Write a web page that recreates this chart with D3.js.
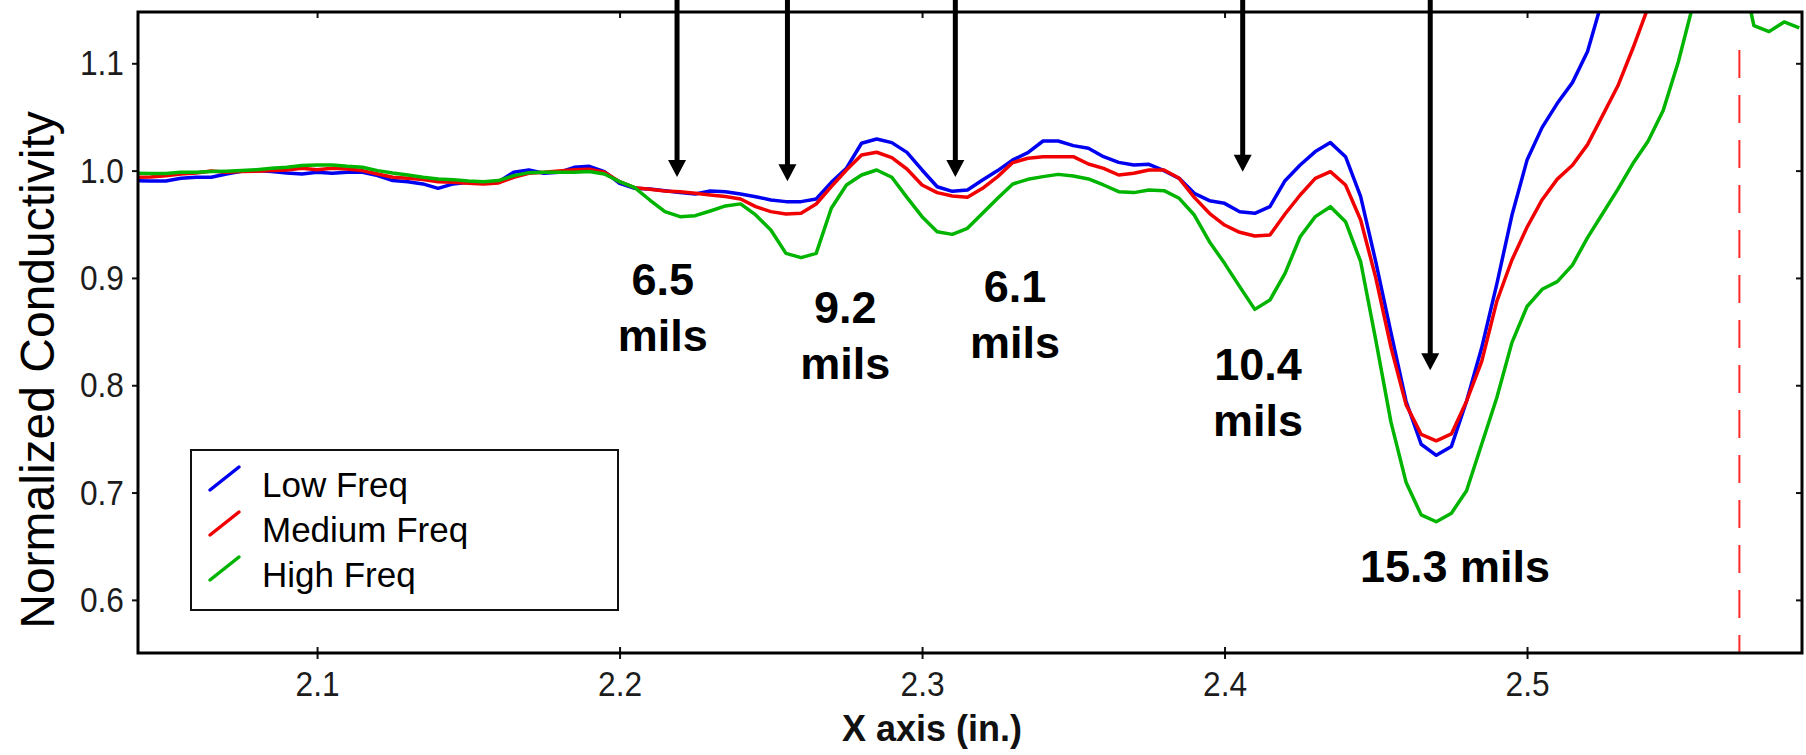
<!DOCTYPE html>
<html><head><meta charset="utf-8">
<script src="https://cdn.jsdelivr.net/npm/d3@7"></script>
<style>
html,body{margin:0;padding:0;background:#fff;}
svg{display:block;}
text{font-family:"Liberation Sans", Arial, Helvetica, sans-serif;}
</style></head><body>
<svg id="chart" width="1806" height="755"></svg>
<script>
// ---------------- DATA ----------------
const xPositions = [
 2.040,2.045,2.050,2.055,2.060,2.065,2.070,2.075,2.080,2.085,2.090,2.095,
 2.100,2.105,2.110,2.115,2.120,2.125,2.130,2.135,2.140,2.145,2.150,2.155,
 2.160,2.165,2.170,2.175,2.180,2.185,2.190,2.195,2.200,2.205,2.210,2.215,
 2.220,2.225,2.230,2.235,2.240,2.245,2.250,2.255,2.260,2.265,2.270,2.275,
 2.280,2.285,2.290,2.295,2.300,2.305,2.310,2.315,2.320,2.325,2.330,2.335,
 2.340,2.345,2.350,2.355,2.360,2.365,2.370,2.375,2.380,2.385,2.390,2.395,
 2.400,2.405,2.410,2.415,2.420,2.425,2.430,2.435,2.440,2.445,2.450,2.455,
 2.460,2.465,2.470,2.475,2.480,2.485,2.490,2.495,2.500,2.505,2.510,2.515,
 2.520,2.525,2.530,2.535,2.540,2.545,2.550,2.555,2.560,2.565,2.570,2.575,
 2.580,2.585,2.590];

const lowFreq = [
 0.9907,0.9904,0.9904,0.9929,0.9938,0.9938,0.9969,0.9994,1.0000,0.9991,0.9978,0.9969,
 0.9984,0.9975,0.9984,0.9984,0.9953,0.9907,0.9897,0.9876,0.9835,0.9876,0.9891,0.9891,
 0.9897,0.9984,1.0006,0.9975,0.9984,1.0031,1.0040,0.9990,0.9882,0.9835,0.9829,0.9813,
 0.9795,0.9782,0.9810,0.9804,0.9782,0.9757,0.9726,0.9711,0.9711,0.9736,0.9891,1.0022,
 1.0255,1.0295,1.0261,1.0170,1.0006,0.9850,0.9807,0.9820,0.9913,1.0000,1.0100,1.0167,
 1.0276,1.0276,1.0233,1.0208,1.0130,1.0077,1.0052,1.0059,0.9999,0.9928,0.9788,0.9720,
 0.9695,0.9617,0.9602,0.9664,0.9906,1.0052,1.0177,1.0261,1.0130,0.9757,0.9150,0.8493,
 0.7851,0.7450,0.7347,0.7430,0.7851,0.8349,0.8942,0.9584,1.0098,1.0403,1.0627,1.0820,
 1.1109,1.1600,1.2000,1.2200,1.2300,1.2400,1.2500,1.2500,1.2500,1.2500,1.2500,1.2500,
 1.2500,1.2500,1.2500];

const mediumFreq = [
 0.9938,0.9941,0.9953,0.9969,0.9978,0.9997,0.9984,0.9991,0.9994,1.0000,1.0006,1.0022,
 1.0009,1.0022,1.0016,1.0000,0.9969,0.9938,0.9929,0.9916,0.9897,0.9891,0.9882,0.9876,
 0.9885,0.9938,0.9975,0.9984,0.9997,1.0009,1.0012,0.9985,0.9897,0.9841,0.9826,0.9810,
 0.9804,0.9789,0.9773,0.9758,0.9736,0.9664,0.9618,0.9596,0.9602,0.9689,0.9851,1.0006,
 1.0146,1.0171,1.0121,1.0015,0.9866,0.9795,0.9764,0.9751,0.9835,0.9944,1.0075,1.0115,
 1.0130,1.0130,1.0130,1.0062,1.0021,0.9959,0.9975,1.0006,1.0006,0.9928,0.9751,0.9602,
 0.9493,0.9425,0.9391,0.9400,0.9596,0.9773,0.9928,0.9990,0.9866,0.9540,0.9000,0.8355,
 0.7819,0.7543,0.7482,0.7546,0.7851,0.8220,0.8782,0.9167,0.9472,0.9729,0.9921,1.0050,
 1.0242,1.0515,1.0788,1.1140,1.1520,1.2000,1.2200,1.2300,1.2400,1.2400,1.2400,1.2400,
 1.2400,1.2400,1.2400];

const highFreq = [
 0.9975,0.9972,0.9972,0.9984,0.9984,0.9991,0.9994,1.0000,1.0009,1.0022,1.0031,1.0047,
 1.0053,1.0053,1.0040,1.0031,1.0000,0.9978,0.9960,0.9938,0.9922,0.9916,0.9904,0.9897,
 0.9907,0.9953,0.9981,0.9984,0.9984,0.9984,0.9991,0.9968,0.9897,0.9841,0.9726,0.9618,
 0.9571,0.9580,0.9624,0.9671,0.9690,0.9587,0.9447,0.9229,0.9189,0.9229,0.9649,0.9866,
 0.9959,1.0006,0.9938,0.9751,0.9571,0.9431,0.9406,0.9462,0.9602,0.9742,0.9875,0.9919,
 0.9944,0.9965,0.9950,0.9922,0.9866,0.9804,0.9795,0.9820,0.9813,0.9742,0.9586,0.9338,
 0.9136,0.8919,0.8707,0.8794,0.9043,0.9384,0.9571,0.9664,0.9524,0.9151,0.8420,0.7659,
 0.7097,0.6792,0.6728,0.6808,0.7017,0.7450,0.7883,0.8397,0.8734,0.8894,0.8965,0.9119,
 0.9376,0.9600,0.9825,1.0066,1.0274,1.0560,1.1012,1.1560,1.1900,1.2100,1.2000,1.1350,
 1.1295,1.1385,1.1330];

const seriesNames = ["Low Freq", "Medium Freq", "High Freq"];
const xTicks = [2.1, 2.2, 2.3, 2.4, 2.5];
const yTicks = [0.6, 0.7, 0.8, 0.9, 1.0, 1.1];

// defect indications (arrows) and their depth labels
const defectX     = [2.219, 2.2555, 2.311, 2.406, 2.468];
const defectTip   = [0.994, 0.990, 0.994, 0.999, 0.814];
const defectDepth = ["6.5", "9.2", "6.1", "10.4", "15.3"];
const cutoffX = 2.5702;

// ---------------- LAYOUT / STYLE ----------------
const seriesColors = ["#0000f0", "#f00000", "#00b400"];
const labelAnchor = [
  {x: 2.2143, y: 0.8841, lines: 2},
  {x: 2.2746, y: 0.8580, lines: 2},
  {x: 2.3307, y: 0.8775, lines: 2},
  {x: 2.4111, y: 0.8049, lines: 2},
  {x: 2.4762, y: 0.6166, lines: 1}
];
const plot = {left: 138, right: 1802, top: 12, bottom: 653};

const svg = d3.select("#chart");
const x = d3.scaleLinear().domain([2.0408, 2.5909]).range([plot.left, plot.right]);
const y = d3.scaleLinear().domain([0.5505, 1.1478]).range([plot.bottom, plot.top]);

svg.append("defs").append("clipPath").attr("id", "clip")
  .append("rect").attr("x", plot.left).attr("y", plot.top)
  .attr("width", plot.right - plot.left).attr("height", plot.bottom - plot.top);

function styleAxis(g, showText) {
  g.select(".domain").remove();
  g.selectAll(".tick line").attr("stroke", "#111").attr("stroke-width", 2);
  if (showText) {
    g.selectAll(".tick text").attr("fill", "#1c1c1c").attr("font-size", 36)
      .attr("transform", "scale(0.88,1)");
  } else {
    g.selectAll(".tick text").remove();
  }
}
svg.append("g").attr("transform", `translate(0,${plot.bottom})`)
  .call(d3.axisBottom(x).tickValues(xTicks).tickFormat(d3.format(".1f"))
    .tickSizeInner(6).tickSizeOuter(0).tickPadding(11))
  .call(g => styleAxis(g, true));
svg.append("g").attr("transform", `translate(0,${plot.bottom})`)
  .call(d3.axisBottom(x).tickValues(xTicks).tickSize(-6).tickFormat(""))
  .call(g => styleAxis(g, false));
svg.append("g").attr("transform", `translate(0,${plot.top})`)
  .call(d3.axisTop(x).tickValues(xTicks).tickSize(-6).tickFormat(""))
  .call(g => styleAxis(g, false));
svg.append("g").attr("transform", `translate(${plot.left},0)`)
  .call(d3.axisLeft(y).tickValues(yTicks).tickFormat(d3.format(".1f"))
    .tickSizeInner(6).tickSizeOuter(0).tickPadding(10))
  .call(g => styleAxis(g, true));
svg.append("g").attr("transform", `translate(${plot.right},0)`)
  .call(d3.axisRight(y).tickValues(yTicks).tickSize(-6).tickFormat(""))
  .call(g => styleAxis(g, false));

// series
const series = [lowFreq, mediumFreq, highFreq];
const line = d3.line().x((d, i) => x(xPositions[i])).y(d => y(d));
const lines = svg.append("g").attr("clip-path", "url(#clip)");
series.forEach((s, k) => {
  lines.append("path").datum(s).attr("d", line)
    .attr("fill", "none").attr("stroke", seriesColors[k])
    .attr("stroke-width", 3.5).attr("stroke-linejoin", "round");
});

// cutoff dashed line
svg.append("line")
  .attr("x1", x(cutoffX)).attr("x2", x(cutoffX))
  .attr("y1", plot.top + 38).attr("y2", plot.bottom)
  .attr("stroke", "#ff2a2a").attr("stroke-width", 2)
  .attr("stroke-dasharray", "28,17");

// frame
svg.append("rect").attr("x", plot.left).attr("y", plot.top)
  .attr("width", plot.right - plot.left).attr("height", plot.bottom - plot.top)
  .attr("fill", "none").attr("stroke", "#000").attr("stroke-width", 3);

// arrows
const arrows = svg.append("g");
defectX.forEach((dx, i) => {
  const px = x(dx), tip = y(defectTip[i]);
  arrows.append("line").attr("x1", px).attr("x2", px).attr("y1", 0).attr("y2", tip - 14)
    .attr("stroke", "#000").attr("stroke-width", 5);
  arrows.append("path")
    .attr("d", `M${px - 9},${tip - 17} L${px + 9},${tip - 17} L${px},${tip} Z`)
    .attr("fill", "#000");
});

// depth labels
defectDepth.forEach((d, i) => {
  const a = labelAnchor[i];
  const t = svg.append("text").attr("x", x(a.x)).attr("y", y(a.y))
    .attr("text-anchor", "middle").attr("font-size", 45).attr("font-weight", "bold")
    .attr("fill", "#000");
  if (a.lines === 2) {
    t.text(d);
    svg.append("text").attr("x", x(a.x)).attr("y", y(a.y) + 56)
      .attr("text-anchor", "middle").attr("font-size", 45).attr("font-weight", "bold")
      .attr("fill", "#000").text("mils");
  } else {
    t.text(d + " mils");
  }
});

// legend
const lg = svg.append("g");
lg.append("rect").attr("x", 191).attr("y", 450).attr("width", 427).attr("height", 160)
  .attr("fill", "#fff").attr("stroke", "#111").attr("stroke-width", 2);
seriesNames.forEach((n, k) => {
  const base = 497 + k * 45;
  lg.append("line").attr("x1", 210).attr("y1", base - 7).attr("x2", 239).attr("y2", base - 30)
    .attr("stroke", seriesColors[k]).attr("stroke-width", 3.5).attr("stroke-linecap", "round");
  lg.append("text").attr("x", 262).attr("y", base).attr("font-size", 35)
    .attr("fill", "#000").text(n);
});

// axis titles
svg.append("text").attr("transform", "translate(54,370) rotate(-90)")
  .attr("text-anchor", "middle").attr("font-size", 48).attr("fill", "#000")
  .text("Normalized Conductivity");
svg.append("text").attr("x", 932).attr("y", 741).attr("text-anchor", "middle")
  .attr("font-size", 36).attr("font-weight", "bold").attr("fill", "#111")
  .text("X axis (in.)");
</script>
</body></html>
